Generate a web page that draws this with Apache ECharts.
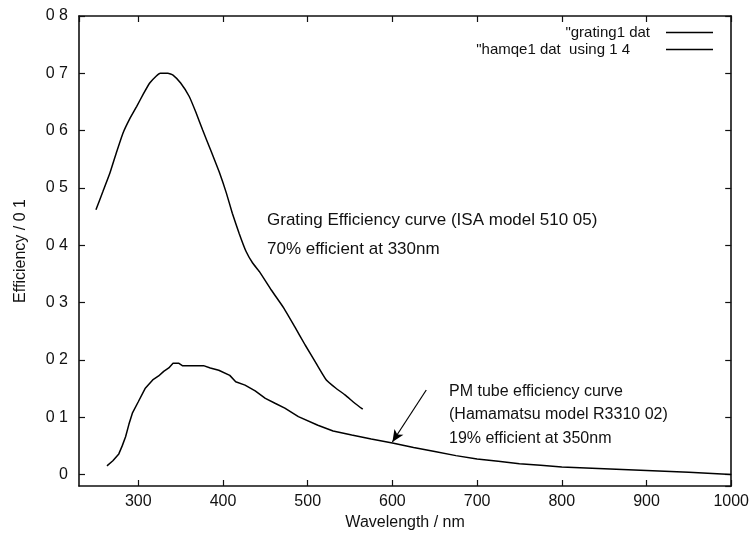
<!DOCTYPE html>
<html>
<head>
<meta charset="utf-8">
<script src="https://cdn.jsdelivr.net/npm/echarts@6/dist/echarts.min.js"></script>
<style>
  html, body { margin: 0; padding: 0; background: #fff; }
  #chart { width: 752px; height: 539px; }
</style>
</head>
<body>
<div id="chart"></div>
<script>
// ---- data ----
const gratingName = '"grating1 dat';
const pmName = '"hamqe1 dat  using 1 4';

const gratingWavelength = [250, 258, 266.5, 274, 282, 290, 298, 306, 313.5, 321, 326, 335, 341, 350, 360, 368, 376, 386, 396, 404, 411, 419, 427, 435, 443, 457, 472, 485, 497, 510, 522, 533, 544, 556, 565];
const gratingEfficiency = [0.462, 0.493, 0.526, 0.561, 0.596, 0.621, 0.642, 0.664, 0.683, 0.695, 0.700, 0.700, 0.697, 0.683, 0.660, 0.632, 0.601, 0.564, 0.526, 0.491, 0.456, 0.421, 0.390, 0.369, 0.354, 0.322, 0.290, 0.257, 0.226, 0.194, 0.165, 0.151, 0.139, 0.124, 0.114];

const pmWavelength = [263, 270, 277, 281, 285, 289, 293, 300, 308, 317, 324, 330, 336, 341, 348, 352, 365, 377, 385, 395, 408, 415, 426, 438, 450, 462, 473, 489, 512, 530, 552, 575, 600, 625, 650, 675, 700, 725, 750, 775, 800, 850, 900, 950, 1000];
const pmEfficiency = [0.015, 0.024, 0.036, 0.050, 0.066, 0.088, 0.107, 0.127, 0.150, 0.165, 0.172, 0.180, 0.186, 0.194, 0.194, 0.190, 0.190, 0.190, 0.186, 0.182, 0.173, 0.162, 0.156, 0.146, 0.133, 0.124, 0.116, 0.101, 0.086, 0.076, 0.069, 0.062, 0.055, 0.047, 0.040, 0.033, 0.027, 0.023, 0.019, 0.016, 0.013, 0.010, 0.007, 0.004, 0.000];

// arrow annotation (data coordinates): from tail to head
const arrowTail = [640, 0.1475];
const arrowHead = [600, 0.0568];

const xRange = [230, 1000];
const yRange = [-0.02, 0.8];

const gratingNote = ['Grating Efficiency curve (ISA model 510 05)', '70% efficient at 330nm'];
const pmNote = ['PM tube efficiency curve', '(Hamamatsu model R3310 02)', '19% efficient at 350nm'];
const xTitle = 'Wavelength / nm';
const yTitle = 'Efficiency / 0 1';

// ---- build ----
const FONT = "'Liberation Sans', Arial, Helvetica, sans-serif";
const INK = '#111';
const zip = (a, b) => a.map((v, i) => [v, b[i]]);

const yFmt = v => Math.abs(v) < 1e-9 ? '0' : v.toFixed(1).replace('.', ' ');
const xFmt = v => String(Math.round(v));

const axisLine = { show: true, onZero: false, lineStyle: { color: INK, width: 1.6 } };
const axisTick = { show: true, inside: true, length: 6, lineStyle: { color: INK, width: 1.2 } };

const chart = echarts.init(document.getElementById('chart'), null, { renderer: 'canvas' });
chart.setOption({
  animation: false,
  backgroundColor: '#fff',
  grid: { left: 79, right: 19, top: 16, bottom: 53, containLabel: false },
  xAxis: [
    {
      type: 'value', min: xRange[0], max: xRange[1], splitNumber: 8,
      position: 'bottom',
      axisLine, axisTick, splitLine: { show: false },
      axisLabel: { formatter: xFmt, showMinLabel: false, showMaxLabel: true, margin: 8,
                   fontFamily: FONT, fontSize: 16, color: INK },
      name: xTitle, nameLocation: 'middle', nameGap: 27,
      nameTextStyle: { fontFamily: FONT, fontSize: 16, color: INK }
    },
    {
      type: 'value', min: xRange[0], max: xRange[1], splitNumber: 8,
      position: 'top',
      axisLine, axisTick, splitLine: { show: false },
      axisLabel: { show: false }
    }
  ],
  yAxis: [
    {
      type: 'value', min: yRange[0], max: yRange[1], splitNumber: 8,
      position: 'left',
      axisLine, axisTick, splitLine: { show: false },
      axisLabel: { formatter: yFmt, showMinLabel: false, margin: 11,
                   fontFamily: FONT, fontSize: 16, color: INK },
      name: yTitle, nameLocation: 'middle', nameGap: 50,
      nameTextStyle: { fontFamily: FONT, fontSize: 16, color: INK }
    },
    {
      type: 'value', min: yRange[0], max: yRange[1], splitNumber: 8,
      position: 'right',
      axisLine, axisTick, splitLine: { show: false },
      axisLabel: { show: false }
    }
  ],
  legend: [
    {
      data: [gratingName], right: 39, top: 25, padding: 0, align: 'right',
      icon: 'rect', itemWidth: 47, itemHeight: 1.5, selectedMode: false,
      textStyle: { fontFamily: FONT, fontSize: 15, color: INK, padding: [0, 11, 0, 0] }
    },
    {
      data: [pmName], right: 39, top: 42, padding: 0, align: 'right',
      icon: 'rect', itemWidth: 47, itemHeight: 1.5, selectedMode: false,
      textStyle: { fontFamily: FONT, fontSize: 15, color: INK, padding: [0, 31, 0, 0] }
    }
  ],
  series: [
    {
      name: gratingName, type: 'line', data: zip(gratingWavelength, gratingEfficiency),
      showSymbol: false, symbol: 'none', color: '#000', smooth: 0.15,
      lineStyle: { color: '#000', width: 1.5 }
    },
    {
      name: pmName, type: 'line', data: zip(pmWavelength, pmEfficiency),
      showSymbol: false, symbol: 'none', color: '#000',
      lineStyle: { color: '#000', width: 1.5 },
      markLine: {
        silent: true, symbol: ['none', 'arrow'], symbolSize: [8, 12],
        label: { show: false },
        lineStyle: { color: '#000', width: 1.2, type: 'solid' },
        data: [[{ coord: arrowTail }, { coord: arrowHead }]]
      }
    }
  ],
  graphic: [
    {
      type: 'text', left: 267, top: 205.5,
      style: { text: gratingNote.join('\n'), fontFamily: FONT, fontSize: 17,
               lineHeight: 29, fill: INK }
    },
    {
      type: 'text', left: 449, top: 380,
      style: { text: pmNote.join('\n'), fontFamily: FONT, fontSize: 16,
               lineHeight: 23.3, fill: INK }
    }
  ]
});
</script>
</body>
</html>
